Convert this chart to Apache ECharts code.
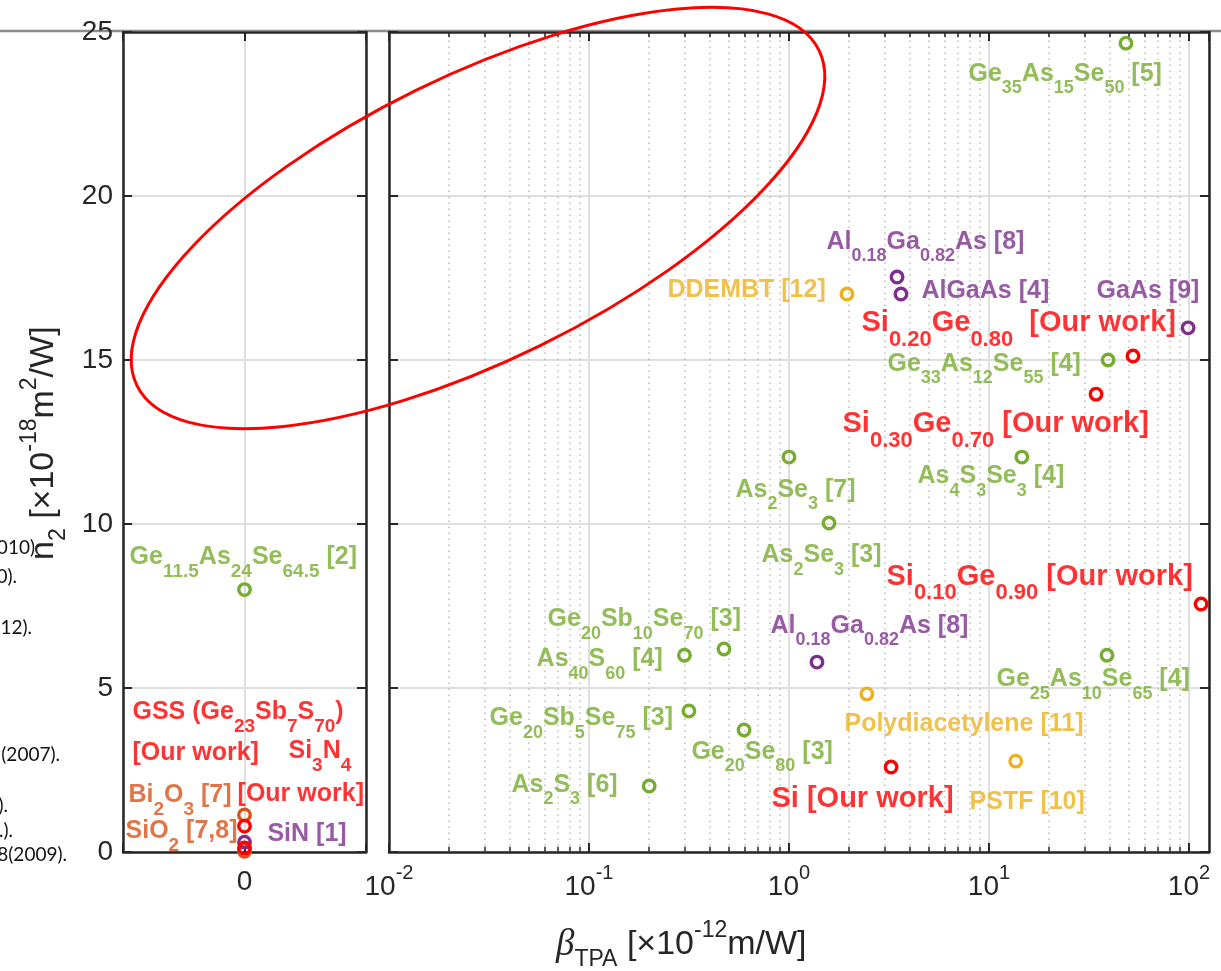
<!DOCTYPE html>
<html><head><meta charset="utf-8">
<script src="https://cdn.jsdelivr.net/npm/echarts@6/dist/echarts.min.js"></script>
<style>html,body{margin:0;padding:0;background:#fff}#c{width:1221px;height:971px}</style>
</head><body><div id="c"></div>
<script>
// ---------------- data ----------------
// right panel (log beta axis)
const rightNames = ['Ge35As15Se50 [5]','Al0.18Ga0.82As [8]','AlGaAs [4]','DDEMBT [12]','GaAs [9]','Si0.20Ge0.80 [Our work]','Ge33As12Se55 [4]','Si0.30Ge0.70 [Our work]','As2Se3 [7]','As4S3Se3 [4]','As2Se3 [3]','Si0.10Ge0.90 [Our work]','Ge20Sb10Se70 [3]','As40S60 [4]','Al0.18Ga0.82As [8] (2)','Ge25As10Se65 [4]','Polydiacetylene [11]','Ge20Sb5Se75 [3]','Ge20Se80 [3]','Si [Our work]','PSTF [10]','As2S3 [6]'];
const rightBeta = [48.4, 3.47, 3.63, 1.95, 99, 52.5, 39.4, 34.3, 1.0, 14.6, 1.585, 115, 0.473, 0.30, 1.38, 38.9, 2.45, 0.316, 0.596, 3.24, 13.6, 0.20];
const rightN2   = [24.66, 17.53, 17.01, 17.01, 15.98, 15.12, 15.0, 13.96, 12.04, 12.04, 10.03, 7.56, 6.19, 6.0, 5.79, 6.0, 4.82, 4.3, 3.72, 2.59, 2.77, 2.01];
const rightGroup = ['green','purple','purple','yellow','purple','red','green','red','green','green','green','red','green','green','purple','green','yellow','green','green','red','yellow','green'];
// left panel (beta ~ 0)
const leftNames = ['Ge11.5As24Se64.5 [2]','Bi2O3 [7]','GSS [Our work]','SiN [1]','Si3N4 [Our work]','SiO2 [7,8]'];
const leftBeta  = [0, 0, 0, 0, 0, 0];
const leftN2    = [8.0, 1.13, 0.79, 0.30, 0.12, 0.02];
const leftGroup = ['green','orange','red','purple','red','orange'];
// tick values
const yTicks = [0, 5, 10, 15, 20, 25];
const xLogDecades = [0.01, 0.1, 1, 10, 100];

// annotation labels: text (with _{sub}), style key, anchor (top-left, data units)
const rightLabelText = ['Ge_{35}As_{15}Se_{50} [5]','Al_{0.18}Ga_{0.82}As [8]','DDEMBT [12]','AlGaAs [4]','GaAs [9]','Si_{0.20}Ge_{0.80}  [Our work]','Ge_{33}As_{12}Se_{55} [4]','Si_{0.30}Ge_{0.70} [Our work]','As_{4}S_{3}Se_{3} [4]','As_{2}Se_{3} [7]','As_{2}Se_{3} [3]','Si_{0.10}Ge_{0.90} [Our work]','Ge_{20}Sb_{10}Se_{70} [3]','Al_{0.18}Ga_{0.82}As [8]','As_{40}S_{60} [4]','Ge_{25}As_{10}Se_{65} [4]','Polydiacetylene [11]','Ge_{20}Sb_{5}Se_{75} [3]','Ge_{20}Se_{80} [3]','As_{2}S_{3} [6]','Si [Our work]','PSTF [10]'];
const rightLabelKey = ['g','p','y','p','p','R','g','R','g','g','g','R','g','p','g','g','y','g','g','g','R','y'];
const rightLabelX = [7.94, 1.549, 0.248, 4.62, 34.7, 2.317, 3.126, 1.862, 4.416, 0.543, 0.733, 3.09, 0.0624, 0.813, 0.0550, 10.96, 1.905, 0.032, 0.327, 0.0412, 0.822, 8.04];
const rightLabelY = [24.21, 19.09, 17.62, 17.59, 17.59, 16.62, 15.37, 13.54, 11.95, 11.55, 9.54, 8.90, 7.59, 7.38, 6.37, 5.76, 4.39, 4.57, 3.54, 2.53, 2.13, 2.01];
const leftLabelText = ['Ge_{11.5}As_{24}Se_{64.5} [2]','GSS (Ge_{23}Sb_{7}S_{70})','[Our work]','Si_{3}N_{4}','[Our work]','Bi_{2}O_{3} [7]','SiO_{2} [7,8]','SiN [1]'];
const leftLabelKey = ['G','r','r','r','r','o','o','q'];
const leftLabelX = [-0.942, -0.918, -0.918, 0.366, -0.053, -0.951, -0.975, 0.193];
const leftLabelY = [9.48, 4.76, 3.51, 3.57, 2.26, 2.23, 1.13, 1.04];

// clipped reference text fragments at the left edge
const fragText = ['010)', '0).', '12).', '(2007).', ').', '.).', '8(2009).'];

// ---------------- styling ----------------
const COLORS = {green:'#77AC30', purple:'#7E2F8E', yellow:'#EDB120', orange:'#D95319', red:'#FF0000'};
const AX = '#262626';
const GRIDC = '#dedede';
const FONT = "'Liberation Sans', Arial, Helvetica, sans-serif";
const labelStyles = {
  g:{c:COLORS.green, m:25, s:18, L:35.5, off:4.5}, p:{c:COLORS.purple, m:25, s:18, L:35.5, off:4.5}, y:{c:COLORS.yellow, m:25, s:18, L:35.5, off:4.5},
  G:{c:COLORS.green, m:25, s:19, L:36, off:4.5}, o:{c:COLORS.orange, m:25, s:19, L:36, off:4.5}, q:{c:COLORS.purple, m:25, s:19, L:36, off:4.5},
  R:{c:COLORS.red, m:29, s:22, L:42, off:2.5}, r:{c:COLORS.red, m:25, s:19, L:36, off:4.5}
};
const rich = {};
for (const k in labelStyles) {
  const st = labelStyles[k];
  rich[k + 'm'] = {color: st.c, fontSize: st.m, fontWeight: 'bold', fontFamily: FONT, lineHeight: st.L, verticalAlign: 'top'};
  rich[k + 's'] = {color: st.c, fontSize: st.s, fontWeight: 'bold', fontFamily: FONT, lineHeight: st.s, verticalAlign: 'bottom'};
}
function toRich(str, k) {
  let out = '', last = 0, m; const re = /_\{([^}]*)\}/g;
  while ((m = re.exec(str))) {
    if (m.index > last) out += '{' + k + 'm|' + str.slice(last, m.index) + '}';
    out += '{' + k + 's|' + m[1] + '}';
    last = re.lastIndex;
  }
  if (last < str.length) out += '{' + k + 'm|' + str.slice(last) + '}';
  return out;
}

const series = [];
// minor log grid (dotted) and minor ticks for right panel
const minorVals = [];
for (const d of xLogDecades.slice(0, 4)) for (let k = 2; k <= 9; k++) minorVals.push(+(k * d).toPrecision(3));
series.push({
  type: 'line', xAxisIndex: 2, yAxisIndex: 2, data: [[1, 0]], showSymbol: false, lineStyle: {width: 0}, silent: true, z: 1,
  markLine: {silent: true, symbol: ['none', 'none'], label: {show: false}, animation: false,
    lineStyle: {type: [1.5, 4.5], color: '#bdbdbd', width: 1.5},
    data: minorVals.map(v => ({xAxis: v}))}
});
series.push({
  type: 'line', xAxisIndex: 2, yAxisIndex: 2, data: [[1, 0]], showSymbol: false, lineStyle: {width: 0}, silent: true, z: 3,
  markLine: {silent: true, symbol: ['none', 'none'], label: {show: false}, animation: false,
    lineStyle: {type: 'solid', color: AX, width: 1.5},
    data: minorVals.flatMap(v => [[{coord: [v, 0]}, {coord: [v, 0.16]}], [{coord: [v, 25 - 0.16]}, {coord: [v, 25]}]])}
});

// points
function addPoints(names, xs, ys, groups, xi, yi) {
  for (const g of ['orange', 'yellow', 'green', 'purple', 'red']) {
    const data = [];
    xs.forEach((x, i) => { if (groups[i] === g) data.push({name: names[i], value: [x, ys[i]]}); });
    if (!data.length) continue;
    series.push({type: 'scatter', xAxisIndex: xi, yAxisIndex: yi, data, symbol: 'circle', symbolSize: 11.5, clip: false, z: 5,
      itemStyle: {color: 'rgba(255,255,255,0)', borderColor: COLORS[g], borderWidth: 3.4, opacity: 1}});
  }
}
addPoints(leftNames, leftBeta, leftN2, leftGroup, 0, 0);
addPoints(rightNames, rightBeta, rightN2, rightGroup, 2, 2);

// labels
function addLabels(texts, keys, xs, ys, xi, yi) {
  series.push({type: 'scatter', xAxisIndex: xi, yAxisIndex: yi, symbolSize: 1, silent: true, z: 6,
    itemStyle: {color: 'rgba(0,0,0,0)'},
    label: {show: true, position: [0, 0], rich},
    data: texts.map((t, i) => ({value: [xs[i], ys[i]], label: {formatter: toRich(t, keys[i]), offset: [0, labelStyles[keys[i]].off]}}))});
}
addLabels(leftLabelText, leftLabelKey, leftLabelX, leftLabelY, 0, 0);
addLabels(rightLabelText, rightLabelKey, rightLabelX, rightLabelY, 2, 2);

const axLine = {show: true, onZero: false, lineStyle: {color: AX, width: 2.5}};
const tick = {show: true, inside: true, length: 9, lineStyle: {color: AX, width: 2}};
const split = {show: true, lineStyle: {color: GRIDC, width: 2}};
const tickRich = {
  b: {fontSize: 28, fontFamily: FONT, color: AX, lineHeight: 38, verticalAlign: 'bottom'},
  z: {fontSize: 28, fontFamily: FONT, color: AX, lineHeight: 33, verticalAlign: 'bottom'},
  sup: {fontSize: 20, fontFamily: FONT, color: AX, lineHeight: 20, verticalAlign: 'top'}
};
const logFmt = v => { const e = Math.log10(v), r = Math.round(e); return Math.abs(e - r) > 1e-6 ? '' : '{b|10}{sup|' + r + '}'; };
const titleRich = {
  g: {fontSize: 37, fontStyle: 'italic', fontFamily: "'Liberation Serif', 'DejaVu Serif', serif", fill: AX, lineHeight: 52, verticalAlign: 'middle'},
  n: {fontSize: 34, fontFamily: FONT, fill: AX, lineHeight: 52, verticalAlign: 'middle'},
  sub: {fontSize: 23, fontFamily: FONT, fill: AX, lineHeight: 23, verticalAlign: 'bottom'},
  sup: {fontSize: 23, fontFamily: FONT, fill: AX, lineHeight: 23, verticalAlign: 'top'}
};

const option = {
  animation: false,
  backgroundColor: '#fff',
  grid: [
    {left: 123, top: 32, width: 243, height: 820, containLabel: false, outerBoundsMode: 'none'},
    {left: 389, top: 32, width: 820, height: 820, containLabel: false, outerBoundsMode: 'none'}
  ],
  xAxis: [
    {gridIndex: 0, type: 'value', min: -1, max: 1, interval: 1, position: 'bottom', axisLine: axLine, axisTick: tick, splitLine: split,
      axisLabel: {margin: 11.5, formatter: v => (Math.abs(v) < 1e-9 ? '{z|0}' : ''), rich: tickRich}},
    {gridIndex: 0, type: 'value', min: -1, max: 1, interval: 1, position: 'top', axisLine: axLine, axisTick: tick, splitLine: {show: false}, axisLabel: {show: false}},
    {gridIndex: 1, type: 'log', logBase: 10, min: 0.01, max: 125.9, position: 'bottom', axisLine: axLine, axisTick: tick, splitLine: split,
      axisLabel: {margin: 11.5, formatter: logFmt, rich: tickRich, showMinLabel: true, showMaxLabel: false}},
    {gridIndex: 1, type: 'log', logBase: 10, min: 0.01, max: 125.9, position: 'top', axisLine: axLine, axisTick: tick, splitLine: {show: false}, axisLabel: {show: false}}
  ],
  yAxis: [
    {gridIndex: 0, type: 'value', min: 0, max: 25, interval: 5, position: 'left', axisLine: axLine, axisTick: tick, splitLine: split,
      axisLabel: {margin: 10, fontSize: 28, fontFamily: FONT, color: AX}},
    {gridIndex: 0, type: 'value', min: 0, max: 25, interval: 5, position: 'right', axisLine: axLine, axisTick: tick, splitLine: {show: false}, axisLabel: {show: false}},
    {gridIndex: 1, type: 'value', min: 0, max: 25, interval: 5, position: 'left', axisLine: axLine, axisTick: tick, splitLine: split, axisLabel: {show: false}},
    {gridIndex: 1, type: 'value', min: 0, max: 25, interval: 5, position: 'right', axisLine: axLine, axisTick: tick, splitLine: {show: false}, axisLabel: {show: false}}
  ],
  series,
  graphic: {elements: [
    {type: 'line', z: -10, shape: {x1: 0, y1: 31, x2: 1221, y2: 31}, style: {stroke: '#8c8c8c', lineWidth: 2.5}, silent: true},
    {type: 'ellipse', z: 100, x: 478, y: 218, rotation: 0.457, shape: {cx: 0, cy: 0, rx: 380, ry: 142},
      style: {fill: 'none', stroke: '#ff0000', lineWidth: 3}, silent: true},
    {type: 'text', z: 50, x: 556, y: 919, silent: true, style: {
      text: '{g|\u03B2}{sub|TPA}{n| [\u00D710}{sup|-12}{n|m/W]}', align: 'left', verticalAlign: 'top', rich: titleRich}},
    {type: 'text', z: 50, x: 18, y: 560, rotation: Math.PI / 2, silent: true, style: {
      text: '{n|n}{sub|2}{n| [\u00D710}{sup|-18}{n|m}{sup|2}{n|/W]}', align: 'left', verticalAlign: 'top', rich: titleRich}}
  ].concat(fragText.map((t, i) => ({
    type: 'text', z: -5, silent: true,
    x: [35, 17, 32, 60, 8, 13, 67][i], y: [548, 577, 628, 755, 806, 831, 855][i],
    style: {text: t, align: 'right', verticalAlign: 'middle', font: "19px Lato, 'Open Sans', sans-serif", fill: '#111'}
  })))}
};
const chart = echarts.init(document.getElementById('c'));
chart.setOption(option);
</script></body></html>
